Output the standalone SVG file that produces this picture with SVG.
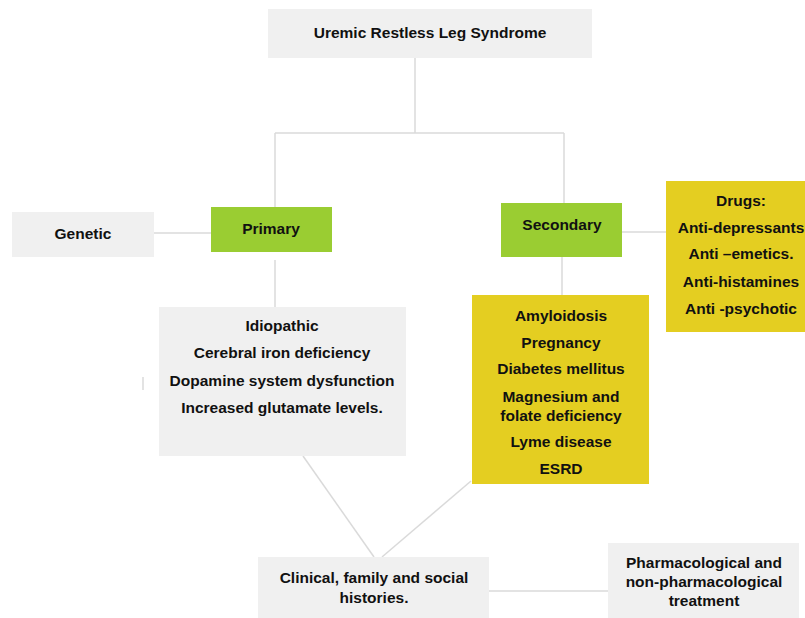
<svg xmlns="http://www.w3.org/2000/svg" width="805" height="618" viewBox="0 0 805 618">
<style>
.g{fill:#f0f0f0}
.gr{fill:#9acd32}
.y{fill:#e4ce21}
.t{font-family:"Liberation Sans",Arial,sans-serif;font-weight:bold;font-size:15.5px;fill:#111;text-anchor:middle}
.c{stroke:#dadada;stroke-width:1.5;fill:none}
</style>
<rect width="805" height="618" fill="#fff"/>
<g id="connectors" class="c">
<path d="M415 58V133M275 133H564M275 133V207M564 133V203"/>
<path d="M154 233H211"/>
<path d="M275 260V307"/>
<path d="M622 232H666"/>
<path d="M562 257V295"/>
<path d="M303 456L374 557"/>
<path d="M471 481L382 557"/>
<path d="M489 591H608"/>
<path d="M143 377V390"/>
</g>
<g id="root">
<rect class="g" x="268" y="9" width="324" height="49"/>
<text class="t" x="430" y="38">Uremic Restless Leg Syndrome</text>
</g>
<g id="genetic">
<rect class="g" x="12" y="212" width="142" height="45"/>
<text class="t" x="83" y="239">Genetic</text>
</g>
<g id="primary">
<rect class="gr" x="211" y="207" width="121" height="45"/>
<text class="t" x="271" y="234">Primary</text>
</g>
<g id="secondary">
<rect class="gr" x="501" y="203" width="121" height="54"/>
<text class="t" x="562" y="230">Secondary</text>
</g>
<g id="drugs">
<rect class="y" x="666" y="181" width="145" height="151"/>
<text class="t" x="741" y="206">Drugs:</text>
<text class="t" x="741" y="233">Anti-depressants</text>
<text class="t" x="741" y="259">Anti –emetics.</text>
<text class="t" x="741" y="287">Anti-histamines</text>
<text class="t" x="741" y="314">Anti -psychotic</text>
</g>
<g id="primary-causes">
<rect class="g" x="159" y="307" width="247" height="149"/>
<text class="t" x="282" y="331">Idiopathic</text>
<text class="t" x="282" y="358">Cerebral iron deficiency</text>
<text class="t" x="282" y="386">Dopamine system dysfunction</text>
<text class="t" x="282" y="413">Increased glutamate levels.</text>
</g>
<g id="secondary-causes">
<rect class="y" x="472" y="295" width="177" height="189"/>
<text class="t" x="561" y="321">Amyloidosis</text>
<text class="t" x="561" y="348">Pregnancy</text>
<text class="t" x="561" y="374">Diabetes mellitus</text>
<text class="t" x="561" y="402">Magnesium and</text>
<text class="t" x="561" y="421">folate deficiency</text>
<text class="t" x="561" y="447">Lyme disease</text>
<text class="t" x="561" y="474">ESRD</text>
</g>
<g id="histories">
<rect class="g" x="258" y="557" width="231" height="61"/>
<text class="t" x="374" y="583">Clinical, family and social</text>
<text class="t" x="374" y="603">histories.</text>
</g>
<g id="treatment">
<rect class="g" x="608" y="543" width="191" height="75"/>
<text class="t" x="704" y="568">Pharmacological and</text>
<text class="t" x="704" y="587">non-pharmacological</text>
<text class="t" x="704" y="606">treatment</text>
</g>
</svg>
